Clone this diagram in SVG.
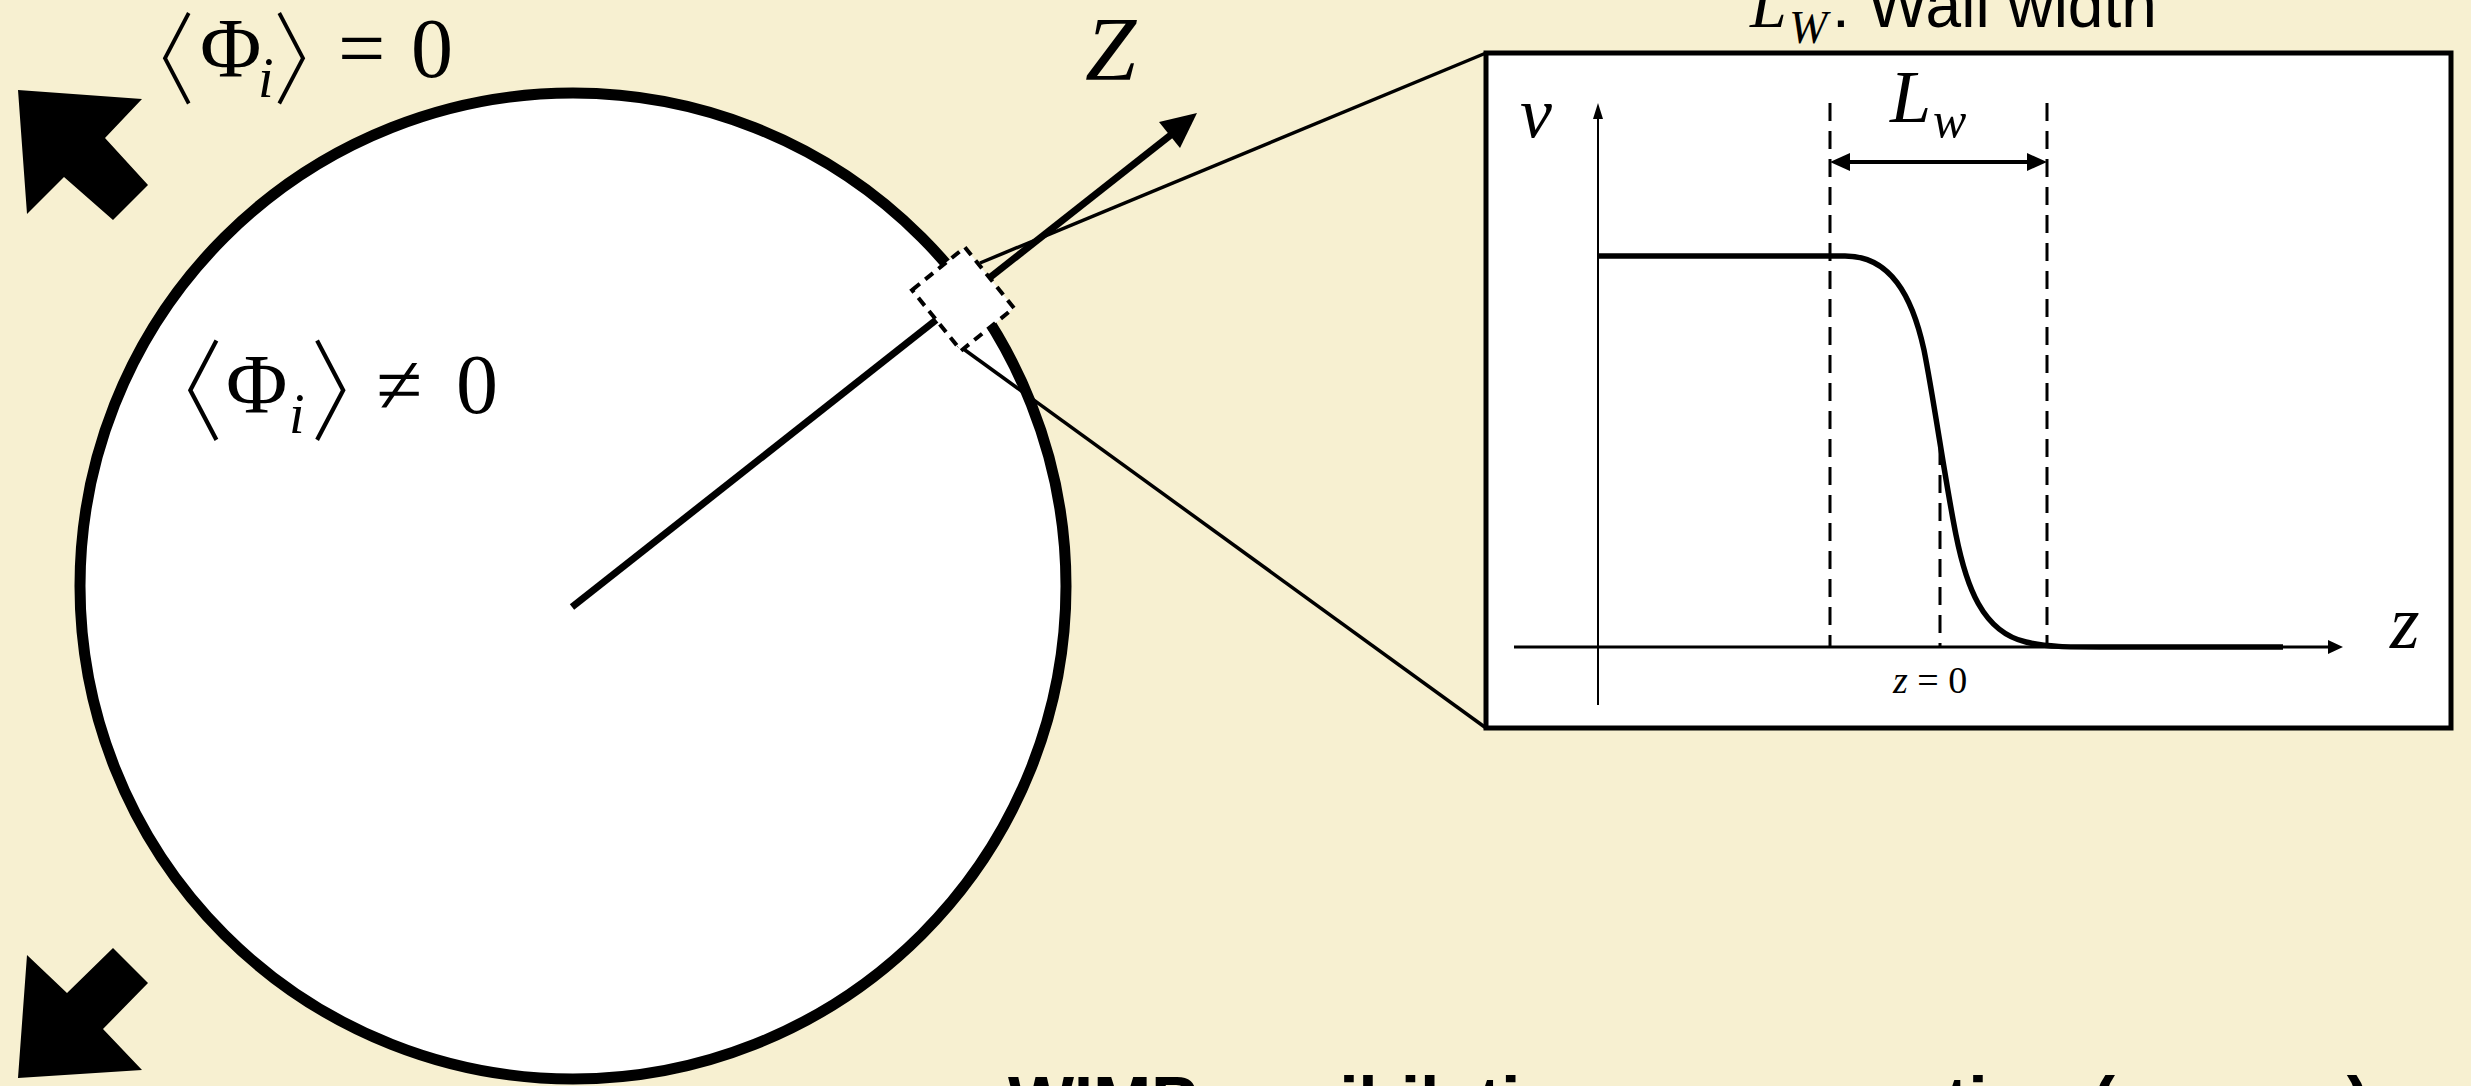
<svg xmlns="http://www.w3.org/2000/svg" width="2471" height="1086" viewBox="0 0 2471 1086">
<style>
.math{font-family:"Liberation Serif","Times New Roman",serif;fill:#000}
.it{font-style:italic}
.br{font-family:"Noto Sans CJK SC","Noto Sans CJK JP",sans-serif;font-weight:300;fill:#000}
.sans{font-family:"Liberation Sans",Arial,sans-serif;fill:#000}
.thin{stroke:#000;stroke-width:3.5;fill:none}
.dash{stroke:#000;stroke-width:3;stroke-dasharray:18 10;fill:none}
.blk{fill:#000;stroke:none}
</style>
<rect width="2471" height="1086" fill="#F7F0D1"/>

<g id="bubble">
<circle cx="573" cy="586" r="493" fill="#fff" stroke="#000" stroke-width="11"/>
</g>

<g id="expansion-arrows">
<polygon class="blk" points="18,90 142,99 105,138 148,185 113,220 64,177 27,214"/>
<polygon class="blk" points="18,1078 27,955 67,993 113,948 148,983 103,1029 142,1070"/>
</g>

<g id="label-outside">
<text class="br" y="96" font-size="100" text-anchor="middle" transform="matrix(0.8,0,0,1,33.6,0)"><tspan x="151">〈</tspan></text>
<text class="math" font-size="84" y="77"><tspan x="200">Φ</tspan><tspan class="it" x="258" y="97" font-size="56">i</tspan></text>
<text class="br" y="96" font-size="100" text-anchor="middle" transform="matrix(0.8,0,0,1,57.6,0)"><tspan x="320">〉</tspan></text>
<text class="math" font-size="84" y="77"><tspan x="338">=</tspan><tspan x="411">0</tspan></text>
</g>

<g id="label-inside">
<text class="br" y="432" font-size="110" text-anchor="middle" transform="matrix(0.8,0,0,1,38.8,0)"><tspan x="175">〈</tspan></text>
<text class="math" font-size="84" y="413"><tspan x="226">Φ</tspan><tspan class="it" x="289" y="433" font-size="56">i</tspan></text>
<text class="br" y="432" font-size="110" text-anchor="middle" transform="matrix(0.8,0,0,1,67.6,0)"><tspan x="359">〉</tspan></text>
<text class="math" font-size="84" y="413"><tspan x="376">≠</tspan><tspan x="456">0</tspan></text>
</g>

<g id="connectors">
<line x1="572" y1="607" x2="1172" y2="134" stroke="#000" stroke-width="7"/>
<polygon class="blk" points="1197,113 1159,122 1180,148"/>
<line class="thin" x1="980" y1="263" x2="1486" y2="53"/>
<line class="thin" x1="958" y1="345" x2="1486" y2="728"/>
</g>

<g id="wall-region">
<rect x="-34" y="-39" width="68" height="78" transform="translate(963,299) rotate(-39)" fill="#fff" stroke="#000" stroke-width="4" stroke-dasharray="10 7"/>
</g>

<g id="z-label">
<text class="math it" x="1085" y="80" font-size="92">Z</text>
</g>

<g id="wall-profile">
<rect x="1486" y="53" width="965" height="675" fill="#fff" stroke="#000" stroke-width="5"/>
<line x1="1598" y1="705" x2="1598" y2="115" stroke="#000" stroke-width="2"/>
<polygon class="blk" points="1598,103 1593,119 1603,119"/>
<line x1="1514" y1="647" x2="2330" y2="647" stroke="#000" stroke-width="3"/>
<polygon class="blk" points="2343,647 2328,640 2328,654"/>
<line class="dash" x1="1830" y1="103" x2="1830" y2="647"/>
<line class="dash" x1="2047" y1="103" x2="2047" y2="647"/>
<line class="dash" x1="1940" y1="447" x2="1940" y2="647"/>
<line x1="1845" y1="162" x2="2032" y2="162" stroke="#000" stroke-width="4"/>
<polygon class="blk" points="1830,162 1850,153 1850,171"/>
<polygon class="blk" points="2047,162 2027,153 2027,171"/>
<path d="M1598 256 H1845 C1890 256 1912 295 1924 350 C1934 400 1945 480 1956 535 C1966 585 1982 632 2026 642 C2045 647 2070 647 2100 647 H2283" fill="none" stroke="#000" stroke-width="5.5"/>
<text class="math it" x="1520" y="137" font-size="72">v</text>
<text class="math it" x="2390" y="648" font-size="76">z</text>
<text class="math it" x="1890" y="122" font-size="74">L</text>
<text class="math it" x="1933" y="137" font-size="50">w</text>
<text class="math" x="1893" y="693" font-size="38"><tspan class="it">z</tspan> = 0</text>
</g>

<g id="wall-width-title">
<text class="math it" x="1750" y="27" font-size="66">L</text>
<text class="math it" x="1789" y="43" font-size="46">W</text>
<text class="sans" x="1832" y="27" font-size="64">: Wall width</text>
</g>

<g id="bottom-caption">
<text class="sans" x="1008" y="1126" font-size="70" font-weight="bold" textLength="1362" lengthAdjust="spacing">WIMP annihilation cross section (s-wave)</text>
</g>
</svg>
